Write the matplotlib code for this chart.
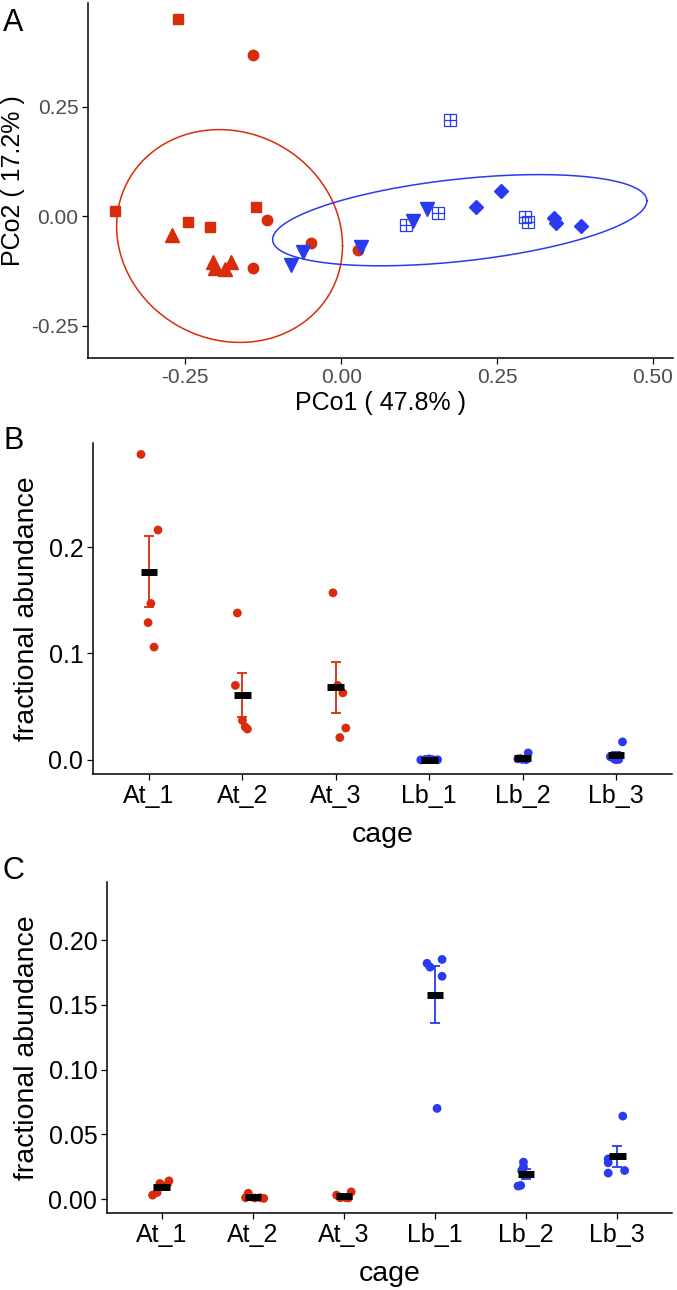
import numpy as np
import matplotlib
matplotlib.use("Agg")
import matplotlib.pyplot as plt

plt.rcParams['font.family'] = ['Liberation Sans', 'DejaVu Sans']

RED = "#D82C0C"
BLUE = "#2A3AEE"

# Panel A: PCoA scores, one list per cage
at_sq_x = [-0.262, -0.363, -0.246, -0.211, -0.137]
at_sq_y = [0.450, 0.011, -0.013, -0.025, 0.021]
at_ci_x = [-0.141, -0.119, -0.142, -0.048, 0.027]
at_ci_y = [0.368, -0.008, -0.118, -0.060, -0.077]
at_tr_x = [-0.272, -0.205, -0.177, -0.202, -0.187]
at_tr_y = [-0.043, -0.104, -0.104, -0.118, -0.121]
lb_dt_x = [-0.061, -0.080, 0.031, 0.115, 0.137]
lb_dt_y = [-0.082, -0.111, -0.070, -0.011, 0.016]
lb_sp_x = [0.174, 0.104, 0.155, 0.294, 0.300]
lb_sp_y = [0.220, -0.019, 0.007, -0.001, -0.014]
lb_di_x = [0.216, 0.256, 0.341, 0.344, 0.384]
lb_di_y = [0.021, 0.057, -0.003, -0.016, -0.022]

# ellipse centre and covariance (robust fit)
at_ell_center = [-0.179, -0.045]
at_ell_cov = [[0.0328, -0.004], [-0.004, 0.0588]]
lb_ell_center = [0.190, -0.009]
lb_ell_cov = [[0.090, 0.0132], [0.0132, 0.0108]]

# Panels B and C: fractional abundance per cage
cages = ["At_1", "At_2", "At_3", "Lb_1", "Lb_2", "Lb_3"]
cage_colors = [RED, RED, RED, BLUE, BLUE, BLUE]
b_values = [
    [0.287, 0.216, 0.147, 0.129, 0.106],
    [0.138, 0.070, 0.037, 0.029, 0.031],
    [0.157, 0.070, 0.063, 0.030, 0.021],
    [0.0000, 0.0005, 0.0010, 0.0003, 0.0002],
    [0.0066, 0.0010, 0.0005, 0.0003, 0.0012],
    [0.0170, 0.0030, 0.0010, 0.0005, 0.0002],
]
c_values = [
    [0.003, 0.005, 0.011, 0.012, 0.014],
    [0.0045, 0.0010, 0.0005, 0.0008, 0.0010],
    [0.0030, 0.0055, 0.0010, 0.0010, 0.0008],
    [0.182, 0.179, 0.185, 0.172, 0.070],
    [0.0285, 0.0250, 0.0220, 0.0100, 0.0105],
    [0.064, 0.028, 0.020, 0.022, 0.031],
]
b_jitter = [
    [-0.086, 0.096, 0.020, -0.010, 0.054],
    [-0.054, -0.075, 0.000, 0.054, 0.030],
    [-0.030, 0.020, 0.075, 0.107, 0.043],
    [-0.09, -0.04, 0.00, 0.04, 0.09],
    [0.06, -0.05, 0.00, 0.04, -0.02],
    [0.07, -0.06, -0.02, 0.03, 0.00],
]
c_jitter = [
    [-0.10, -0.05, 0.06, -0.02, 0.08],
    [-0.05, 0.08, 0.12, 0.02, -0.08],
    [-0.08, 0.08, 0.02, -0.04, 0.05],
    [-0.088, -0.055, 0.077, 0.077, 0.022],
    [-0.03, -0.03, -0.05, -0.09, -0.06],
    [0.06, -0.10, -0.10, 0.08, -0.10],
]

W, H = 677, 1290
fig = plt.figure(figsize=(W / 100, H / 100), dpi=100)


def add_ax(left, top, right, bottom):
    return fig.add_axes([left / W, 1 - bottom / H, (right - left) / W, (bottom - top) / H])


def style(ax, tick_color, tick_size):
    for s in ["top", "right"]:
        ax.spines[s].set_visible(False)
    for s in ["left", "bottom"]:
        ax.spines[s].set_linewidth(1.1)
    ax.tick_params(length=4, width=0.9, pad=3, labelsize=tick_size, labelcolor=tick_color)


def ellipse(center, cov):
    t = np.linspace(0, 2 * np.pi, 300)
    L = np.linalg.cholesky(np.array(cov))
    pts = L @ np.vstack([np.cos(t), np.sin(t)])
    return center[0] + pts[0], center[1] + pts[1]


# ---- Panel A
axA = add_ax(88, 3, 673, 358)
style(axA, "#4D4D4D", 15)
ex, ey = ellipse(at_ell_center, at_ell_cov)
axA.plot(ex, ey, color=RED, lw=1.1)
ex, ey = ellipse(lb_ell_center, lb_ell_cov)
axA.plot(ex, ey, color=BLUE, lw=1.1)
axA.plot(at_sq_x, at_sq_y, "s", color=RED, ms=7, ls="none")
axA.plot(at_ci_x, at_ci_y, "o", color=RED, ms=7.5, ls="none")
axA.plot(at_tr_x, at_tr_y, "^", color=RED, ms=9.5, ls="none")
axA.plot(lb_dt_x, lb_dt_y, "v", color=BLUE, ms=9.5, ls="none")
axA.plot(lb_sp_x, lb_sp_y, "s", mfc="none", mec=BLUE, mew=0.9, ms=8, ls="none")
axA.plot(lb_sp_x, lb_sp_y, "+", mec=BLUE, mew=0.9, ms=8, ls="none")
axA.plot(lb_di_x, lb_di_y, "D", color=BLUE, ms=7.5, ls="none")
axA.set_xlim(-0.406, 0.532)
axA.set_ylim(-0.323, 0.486)
axA.set_xticks([-0.25, 0.0, 0.25, 0.5])
axA.set_xticklabels(["-0.25", "0.00", "0.25", "0.50"])
axA.set_yticks([-0.25, 0.0, 0.25])
axA.set_yticklabels(["-0.25", "0.00", "0.25"])
axA.set_xlabel("PCo1 ( 47.8% )", fontsize=18, labelpad=3)
axA.set_ylabel("PCo2 ( 17.2% )", fontsize=18, labelpad=4)


def dot_panel(ax, values, jitter):
    for i, (vals, jit, col) in enumerate(zip(values, jitter, cage_colors)):
        x = i + 1
        v = np.array(vals)
        m = v.mean()
        se = v.std(ddof=1) / np.sqrt(len(v))
        ax.scatter(x + np.array(jit), v, s=40, color=col, edgecolors="none", zorder=2)
        ax.errorbar(x, m, yerr=se, color=col, lw=1.3, capsize=3.5, capthick=1.3, zorder=3)
        ax.plot([x - 0.09, x + 0.09], [m, m], color="black", lw=5, solid_capstyle="butt", zorder=4)
    ax.set_xlim(0.4, 6.6)
    ax.set_xticks(range(1, 7))
    ax.set_xticklabels(cages)
    ax.set_xlabel("cage", fontsize=20.5, labelpad=10)
    ax.set_ylabel("fractional abundance", fontsize=20.5, labelpad=6)


# ---- Panel B
axB = add_ax(93, 443, 672, 774)
style(axB, "black", 18)
dot_panel(axB, b_values, b_jitter)
axB.set_ylim(-0.0132, 0.2977)
axB.set_yticks([0.0, 0.1, 0.2])
axB.set_yticklabels(["0.0", "0.1", "0.2"])

# ---- Panel C
axC = add_ax(107, 882, 672, 1213)
style(axC, "black", 18)
dot_panel(axC, c_values, c_jitter)
axC.set_ylim(-0.0108, 0.2448)
axC.set_yticks([0.0, 0.05, 0.10, 0.15, 0.20])
axC.set_yticklabels(["0.00", "0.05", "0.10", "0.15", "0.20"])

for lab, y in [("A", 8), ("B", 426), ("C", 856)]:
    fig.text(3 / W, 1 - y / H, lab, fontsize=22, ha="left", va="top")

fig.savefig("out.png", dpi=100)
